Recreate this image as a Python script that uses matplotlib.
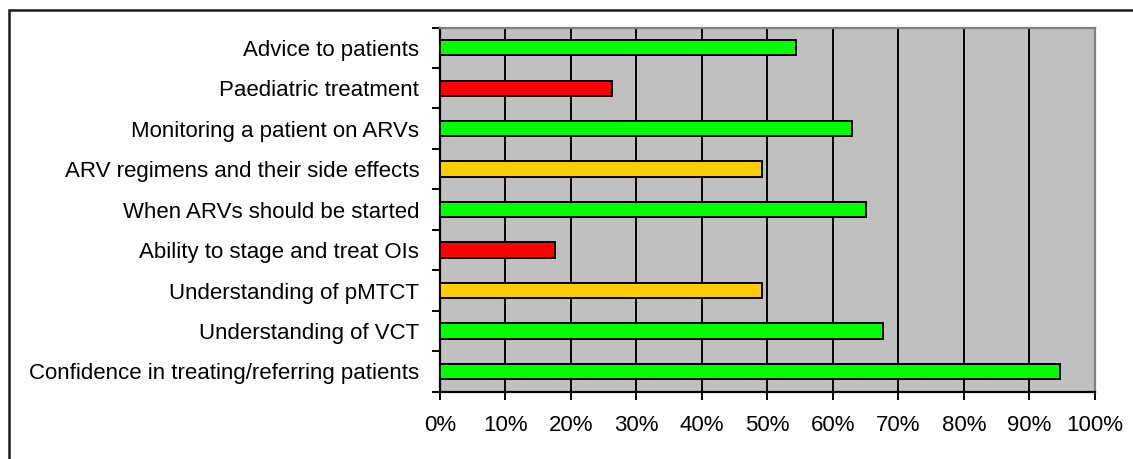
import matplotlib
matplotlib.use("Agg")
import matplotlib.pyplot as plt
from matplotlib.patches import Rectangle
from matplotlib.ticker import FixedLocator, PercentFormatter

plt.rcParams['font.family'] = ['Liberation Sans', 'DejaVu Sans']

# Survey items, top to bottom as shown
categories = [
    "Advice to patients",
    "Paediatric treatment",
    "Monitoring a patient on ARVs",
    "ARV regimens and their side effects",
    "When ARVs should be started",
    "Ability to stage and treat OIs",
    "Understanding of pMTCT",
    "Understanding of VCT",
    "Confidence in treating/referring patients",
]
values = [54.3, 26.3, 63.0, 49.2, 65.0, 17.5, 49.2, 67.6, 94.7]
ratings = ["good", "poor", "good", "fair", "good", "poor", "fair", "good", "good"]
rating_colors = {"good": "#00FF00", "fair": "#FFCC00", "poor": "#FF0000"}
x_ticks = list(range(0, 101, 10))

W, H = 1133, 459
fig = plt.figure(figsize=(W / 100, H / 100), dpi=100)
fig.patch.set_facecolor("white")

left, right, top, bottom = 440, 1094.7, 27.5, 391.7
ax = fig.add_axes([left / W, 1 - bottom / H, (right - left) / W, (bottom - top) / H])
ax.set_facecolor("#C0C0C0")

n = len(categories)
ypos = list(range(n))
ax.barh(ypos, values, height=0.38,
        color=[rating_colors[r] for r in ratings],
        edgecolor="black", linewidth=1.4, zorder=3)

ax.set_xlim(0, 100)
ax.set_ylim(n - 0.5, -0.5)

ax.set_xticks(x_ticks)
ax.xaxis.set_major_formatter(PercentFormatter(decimals=0))
ax.grid(axis="x", color="black", linewidth=1.4, zorder=1)
ax.set_axisbelow(True)

ax.set_yticks(ypos)
ax.set_yticklabels(categories)
ax.yaxis.set_minor_locator(FixedLocator([i - 0.5 for i in range(n + 1)]))
ax.tick_params(axis="y", which="major", length=0, pad=15, labelsize=16)
ax.tick_params(axis="y", which="minor", length=6, width=1.4, direction="out")
ax.tick_params(axis="x", which="major", length=6, width=1.4, direction="out",
               pad=11, labelsize=16)

for side in ("left", "bottom"):
    ax.spines[side].set_color("black")
    ax.spines[side].set_linewidth(1.6)
for side in ("top", "right"):
    ax.spines[side].set_color("#808080")
    ax.spines[side].set_linewidth(1.6)

# Outer chart border (extends past the right and bottom edges)
fig.patches.append(Rectangle((8.5 / W, -0.2), 1.2, 1.2 - 9.5 / H,
                             transform=fig.transFigure, fill=False,
                             edgecolor="#1a1a1a", linewidth=1.8))

fig.savefig("out.png", dpi=100)
